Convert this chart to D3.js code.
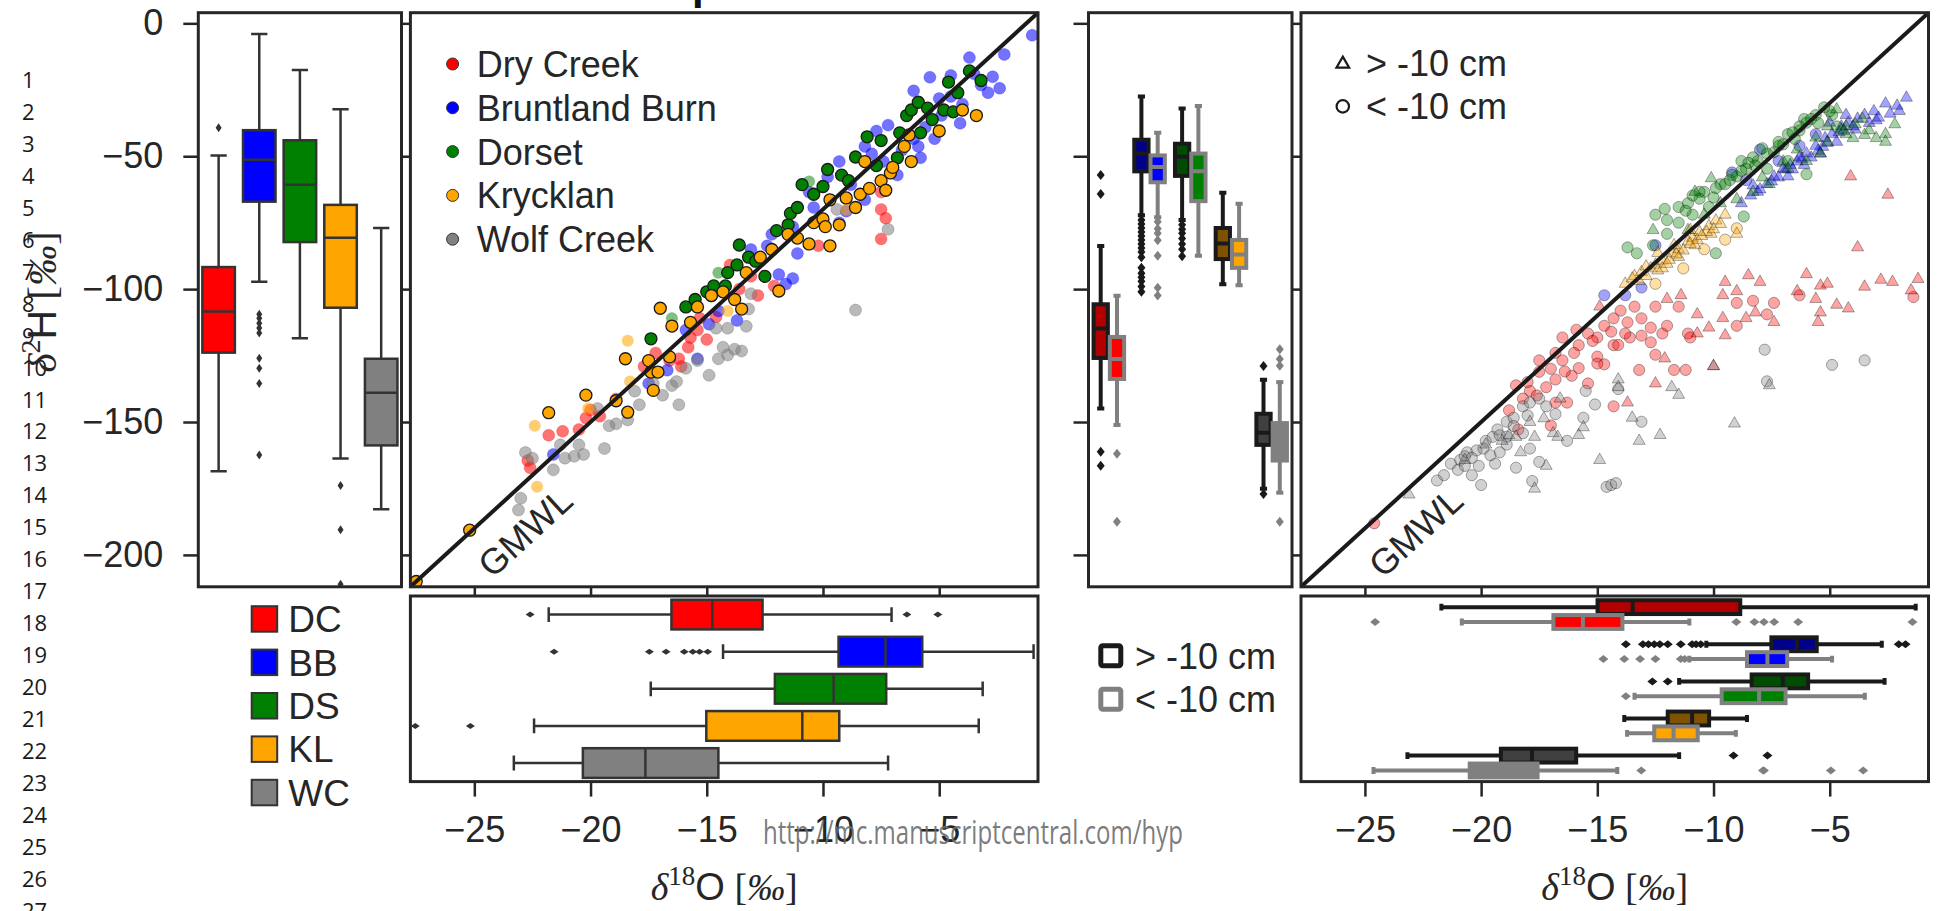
<!DOCTYPE html>
<html>
<head>
<meta charset="utf-8">
<script src="https://cdn.jsdelivr.net/npm/d3@7"></script>
<style>
  html, body { margin: 0; padding: 0; background: #fff; }
  svg { display: block; }
</style>
</head>
<body>
<svg id="chart" width="1937" height="911"></svg>
<script>
// ---------------- data ----------------
const siteCodes = ["DC", "BB", "DS", "KL", "WC"];
const siteNames = ["Dry Creek", "Bruntland Burn", "Dorset", "Krycklan", "Wolf Creek"];
const siteColors = ["#ff0000", "#0000ff", "#008000", "#ffa500", "#808080"];
const siteDarkColors = ["#b20000", "#00008b", "#004c00", "#7f5200", "#404040"];
const depthClasses = ["> -10 cm", "< -10 cm"];
const xTicks = [-25, -20, -15, -10, -5];
const yTicks = [0, -50, -100, -150, -200];
const xDomain = [-27.75, -0.75];
const yDomain = [-212, 4];
const lineNumbers = [1,2,3,4,5,6,7,8,9,10,11,12,13,14,15,16,17,18,19,20,21,22,23,24,25,26,27];

// δ2H box statistics per site: [lower whisker, Q1, median, Q3, upper whisker]
const d2hStats = [
  [-168.5, -123.9, -108.4, -91.7, -49.7],
  [-97.2, -67.1, -51.3, -40.2, -4.0],
  [-118.5, -82.3, -60.7, -44.0, -17.6],
  [-163.7, -107.0, -80.7, -68.3, -32.3],
  [-182.8, -158.8, -139.0, -126.2, -77.0]
];
const d2hOutliers = [
  [-39.3],
  [-109.5, -111, -112.8, -114.6, -116.5, -126, -129.8, -135.5, -162.4],
  [],
  [-173.9, -190.5, -211],
  []
];

// δ18O box statistics per site
const d18oStats = [
  [-21.8, -16.52, -14.76, -12.6, -7.05],
  [-14.3, -9.33, -7.31, -5.73, -0.94],
  [-17.41, -12.07, -9.54, -7.28, -3.13],
  [-22.43, -15.02, -10.89, -9.3, -3.3],
  [-23.3, -20.33, -17.64, -14.5, -7.2]
];
const d18oOutliers = [
  [-22.6, -6.39, -5.06],
  [-21.57, -17.47, -16.75, -15.97, -15.6, -15.31, -14.96],
  [],
  [-27.54, -25.17],
  []
];

// δ2H by sampling depth
const d2hShallowStats = [
  [-144.9, -125.9, -114.8, -105.7, -83.8],
  [-72.2, -55.7, -49.0, -43.8, -27.5],
  [-74.0, -57.4, -50.2, -45.3, -32.0],
  [-98.2, -88.7, -82.8, -77.0, -63.7],
  [-175.1, -158.6, -154.0, -146.9, -134.1]
];
const d2hShallowOutliers = [
  [-57.1, -64.2, -161.2, -166.5],
  [-74, -75.5, -77, -78.5, -80, -81.5, -83, -84.5, -86, -88, -92, -94, -95.5, -97, -99, -101],
  [-75.8, -77.5, -79, -81, -83, -85, -87.6],
  [],
  [-128.9, -177.1]
];
const d2hDeepStats = [
  [-151.1, -133.8, -126.3, -118.0, -102.5],
  [-73.0, -59.8, -54.1, -49.7, -41.2],
  [-87.4, -66.9, -55.7, -49.0, -31.1],
  [-98.5, -92.0, -87.0, -81.5, -67.9],
  [-176.6, -164.5, -159.2, -150.4, -135.0]
];
const d2hDeepOutliers = [
  [-161.9, -187.5],
  [-74.7, -77.3, -79, -81.6, -87.4, -99.5, -102.4],
  [],
  [],
  [-122.6, -126.3, -128.8, -187.5]
];

// δ18O by sampling depth
const d18oShallowStats = [
  [-21.71, -14.99, -13.48, -8.85, -1.3],
  [-10.31, -7.51, -6.41, -5.56, -2.76],
  [-11.48, -8.36, -7.02, -5.93, -2.64],
  [-13.84, -11.97, -10.92, -10.19, -8.56],
  [-23.17, -19.15, -17.81, -15.91, -11.48]
];
const d18oShallowOutliers = [
  [],
  [-13.77, -13.04, -12.8, -12.55, -12.31, -11.97, -11.41, -10.92, -10.75, -10.55, -2.03, -1.74],
  [-12.63, -11.97],
  [],
  [-9.14, -7.68]
];
const d18oDeepStats = [
  [-20.83, -16.89, -15.62, -13.92, -11.04],
  [-11.04, -8.56, -7.68, -6.83, -4.9],
  [-13.4, -9.65, -8.04, -6.9, -3.49],
  [-13.72, -12.55, -11.72, -10.68, -9.04],
  [-24.63, -20.49, -19.45, -17.57, -14.14]
];
const d18oDeepOutliers = [
  [-24.56, -9.02, -8.24, -7.83, -7.39, -6.36, -1.44],
  [-14.74, -13.84, -13.16, -12.5, -11.41, -11.24],
  [-13.77],
  [],
  [-13.11, -7.87, -7.83, -4.95, -3.56]
];

// dual-isotope samples [δ18O, δ2H], all sites
const ptsDC = [[-22.6,-167.2],[-22.7,-164.5],[-21.8,-155],[-21.2,-153.5],[-20.5,-152.8],[-20.2,-148.5],[-20.0,-145.5],[-19.6,-147.8],[-18.9,-141.3],[-17.7,-129.1],[-17.2,-124],[-16.6,-126.9],[-16.2,-126.2],[-16.1,-129.1],[-15.8,-121.9],[-15.7,-118.3],[-15.4,-115.4],[-15.3,-111],[-15.0,-119],[-14.6,-110.5],[-14.0,-90.9],[-13.6,-100],[-13.1,-95.2],[-12.8,-102.4],[-12.1,-98.8],[-10.2,-83.7],[-7.5,-70],[-7.3,-73.3],[-7.5,-81.1],[-7.5,-63.5]];
const ptsBB = [[-1.0,-4.5],[-2.2,-11.7],[-3.7,-12.9],[-2.4,-24.4],[-2.9,-26.1],[-2.7,-20.1],[-3.2,-23.2],[-3.5,-19],[-4.5,-19.6],[-5.4,-20.3],[-6.1,-25.4],[-5.0,-28.3],[-4.9,-34.7],[-4.1,-37.6],[-5.6,-39.1],[-6.1,-43.4],[-5.2,-43.4],[-7.2,-38.3],[-7.7,-40.5],[-5.8,-50.6],[-6.8,-57.1],[-8.2,-46.3],[-7.9,-49.1],[-7.4,-52],[-9.3,-52],[-9.8,-57.8],[-10.6,-63.5],[-9.0,-70.7],[-9.3,-75],[-8.2,-66.4],[-10.4,-69.3],[-11.3,-76.5],[-12.2,-79.4],[-11.1,-86.6],[-12.4,-83.7],[-13.1,-85.1],[-11.3,-96],[-11.9,-94.5],[-11.6,-98.1],[-13.7,-111.8],[-14.5,-108.2],[-14.9,-113.2],[-15.4,-126.2],[-15.9,-115.4],[-16.7,-130.5],[-17.5,-135.5],[-21.6,-162.2],[-8.8,-60.7],[-5.9,-46.3],[-6.6,-47.7],[-4.5,-27.5],[-4.0,-30.4]];
const ptsWC = [[-23.1,-183.1],[-23.0,-178.7],[-22.8,-161.5],[-22.5,-163.6],[-21.6,-168],[-21.3,-158.6],[-21.1,-163.6],[-20.7,-162.9],[-20.5,-158.6],[-20.3,-162.2],[-19.4,-160],[-19.7,-144.9],[-19.2,-151.4],[-18.9,-150.7],[-18.4,-149.2],[-18.1,-138.4],[-17.9,-143.5],[-17.3,-135.5],[-16.9,-139.9],[-16.5,-136.3],[-16.3,-134.8],[-16.2,-143.5],[-15.9,-129.8],[-15.4,-126.9],[-14.9,-132.4],[-14.5,-126.2],[-14.3,-121.9],[-14.1,-124.8],[-13.8,-122.6],[-13.5,-123.3],[-14.6,-114.7],[-14.1,-114.7],[-13.3,-114],[-13.2,-107.5],[-13.1,-101.7],[-8.6,-107.9],[-7.2,-77.5],[-9.4,-70.0]];
const ptsDS = [[-17.4,-118.7],[-15.9,-106.7],[-15.5,-103.9],[-15.0,-101],[-14.8,-102.4],[-14.7,-98.8],[-14.2,-98.8],[-14.1,-93.8],[-13.7,-90.9],[-13.6,-83.4],[-13.2,-88],[-12.9,-89.5],[-12.5,-95.2],[-12.0,-78],[-11.5,-75.8],[-11.4,-71.5],[-11.1,-69.3],[-10.9,-60.7],[-10.4,-64.3],[-10.0,-61.4],[-9.8,-55],[-9.2,-57.1],[-8.9,-59.2],[-8.6,-50.3],[-8.1,-42.7],[-7.7,-53.5],[-7.5,-44.1],[-6.8,-50.6],[-6.7,-41.2],[-6.4,-34.7],[-6.2,-32.6],[-5.9,-29.7],[-5.8,-41.2],[-5.5,-31.9],[-5.3,-36.2],[-4.8,-32.6],[-4.6,-22.1],[-4.4,-33.3],[-4.2,-26.1],[-3.7,-17.9],[-3.2,-21.5]];
const ptsDSfaint = [[-10.6,-59.5],[-16.5,-111],[-14.5,-93.8]];
const ptsKL = [[-25.2,-190.7],[-27.5,-210],[-21.8,-146.5],[-20.2,-139.9],[-18.9,-142],[-18.4,-146.3],[-18.5,-126.2],[-17.5,-126.9],[-17.4,-131.2],[-17.1,-131.2],[-17.3,-138.1],[-17.0,-107.2],[-16.6,-125.5],[-16.5,-113.9],[-15.7,-112.5],[-15.4,-106.7],[-14.8,-102.4],[-14.3,-101],[-13.8,-103.9],[-13.5,-107.5],[-13.3,-93.8],[-12.7,-88],[-12.2,-85.1],[-11.9,-100.7],[-11.5,-79.4],[-11.1,-80.8],[-10.6,-83],[-10.4,-75],[-10.0,-73.6],[-9.9,-76.5],[-9.7,-83.7],[-9.7,-66.4],[-9.3,-75.8],[-9.0,-65.7],[-8.6,-69.3],[-8.4,-64.3],[-8.2,-52],[-8.0,-62.1],[-7.5,-59.2],[-7.3,-62.8],[-7.1,-56.3],[-7.0,-54.2],[-6.5,-46.3],[-6.3,-42],[-6.2,-52],[-5.0,-40.5],[-4.0,-32.6],[-3.4,-34.7]];
const ptsKLfaint = [[-22.4,-151.4],[-22.3,-174.4],[-18.4,-119.4],[-18.3,-134.8],[-20.1,-144.9],[-14.1,-108.2],[-9.0,-70]];

// samples split by depth: shallow (> -10 cm, triangles) and deep (< -10 cm, circles)
const shallowDC = [[-4.1,-57.6],[-2.5,-64.5],[-3.8,-84.3],[-8.5,-94.8],[-8.0,-97.3],[-9.5,-97.3],[-9.0,-100.8],[-6.0,-94.4],[-5.4,-98.7],[-5.1,-98],[-3.5,-99.1],[-2.8,-96.5],[-2.3,-97.3],[-1.2,-96.2],[-1.5,-100.5],[-6.4,-100.8],[-5.6,-103.7],[-4.7,-105.9],[-4.2,-107.3],[-5.4,-108.8],[-5.5,-112.4],[-7.4,-112.4],[-8.2,-108.8],[-8.6,-110.9],[-9.6,-110.9],[-10.2,-114.5],[-10.7,-116.7],[-9.5,-117.4],[-12.0,-103.7],[-11.4,-102.3],[-12.1,-126.1],[-10.0,-129],[-10.7,-109.5],[-9.6,-102.3],[-13.7,-142.7],[-14.9,-106.6],[-12.5,-135.5]];
const deepDC = [[-18.5,-136.2],[-17.5,-126.8],[-16.8,-124],[-16.5,-118.2],[-15.8,-121.1],[-15.4,-116.7],[-14.7,-113.8],[-14.3,-111],[-14.0,-108.1],[-13.4,-106.6],[-13.1,-111],[-12.5,-106.6],[-12.2,-116.7],[-12.0,-113.8],[-11.5,-106.6],[-11.1,-116.7],[-11.7,-130.4],[-11.2,-130.4],[-12.5,-124.7],[-13.2,-130.4],[-13.6,-118.2],[-14.3,-121.1],[-15.0,-125.4],[-15.8,-129.7],[-16.1,-132.6],[-16.8,-134],[-17.2,-136.9],[-17.9,-138.3],[-18.2,-141.2],[-16.8,-142.7],[-16.3,-142.7],[-14.3,-144.1],[-17.0,-151.3],[-18.8,-145.6],[-18.4,-152.8],[-24.6,-188.1],[-9.0,-105.2],[-8.3,-104.4],[-7.4,-105.2],[-7.7,-109.5],[-9.0,-113.8],[-6.3,-102.3],[-1.4,-103],[-11.0,-118.2],[-15.9,-115.3],[-15.0,-118.2],[-13.8,-116.7],[-12.7,-114.5],[-14.7,-128.3],[-15.4,-135.5],[-17.5,-131.1],[-16.5,-126.8],[-16.0,-124],[-15.2,-119.5],[-14.4,-116],[-13.7,-112.5],[-17.0,-130],[-16.4,-131],[-15.0,-128],[-14.1,-121],[-13.1,-117.5],[-12.7,-120],[-18.0,-135],[-17.6,-140]];
const shallowBB = [[-1.7,-28],[-2.0,-33],[-2.6,-30.2],[-3.1,-33.1],[-3.5,-34.5],[-3.8,-35.9],[-4.2,-37.4],[-4.5,-38.8],[-4.9,-41.7],[-5.2,-43.2],[-5.6,-46.1],[-6.0,-49],[-6.3,-50.4],[-6.7,-53.3],[-7.0,-54.7],[-7.4,-57.6],[-7.7,-60.5],[-8.1,-63.4],[-8.4,-64.8],[-8.8,-67.7],[-4.0,-38.8],[-4.7,-44.6],[-5.4,-49],[-6.1,-53.3],[-6.8,-57.6],[-4.3,-34.5],[-5.0,-37.4],[-3.0,-36.5],[-4.6,-41],[-5.3,-46.5],[-6.4,-52],[-7.2,-58],[-8.0,-62.5],[-2.4,-34],[-3.9,-40],[-5.8,-50.5],[-6.9,-55],[-2.1,-31],[-2.9,-35.5],[-3.3,-37.5],[-4.4,-40.5],[-5.1,-45],[-5.5,-48],[-6.2,-51],[-6.6,-55],[-7.5,-59.5],[-8.3,-61]];
const deepBB = [[-8.0,-47.5],[-14.7,-102.3],[-12.5,-83.5],[-13.8,-102.3],[-13.1,-99.4],[-9.2,-56.1],[-8.6,-59],[-7.2,-51.8],[-6.3,-46.1],[-5.6,-41.7]];
const shallowDS = [[-10.1,-58.3],[-10.8,-63.4],[-12.6,-77.8],[-4.7,-32.4],[-4.3,-38.8],[-3.6,-35.9],[-2.6,-41.7],[-3.0,-43.2],[-2.6,-44.6],[-4.0,-43.2],[-5.1,-44.6],[-5.4,-49],[-6.0,-51.8],[-6.8,-54.7],[-7.6,-60.5],[-8.3,-63.4],[-9.0,-66.2],[-9.7,-67.7],[-10.4,-72],[-11.1,-77.8],[-3.3,-40.3],[-4.3,-41.7],[-5.1,-38.8],[-3.9,-38],[-4.5,-40],[-5.6,-43],[-6.4,-47.5],[-7.0,-52],[-7.9,-58],[-2.2,-38],[-3.5,-42]];
const deepDS = [[-5.24,-31.6],[-6.1,-36],[-6.3,-40.3],[-6.8,-41.7],[-7.2,-46.1],[-7.7,-49],[-8.1,-51.8],[-8.8,-51.8],[-9.0,-57.6],[-9.7,-60.5],[-10.4,-63.4],[-10.9,-64.8],[-11.5,-69.1],[-10.9,-72],[-10.2,-69.1],[-12.5,-72],[-12.1,-69.8],[-11.5,-75],[-12.0,-79.2],[-12.6,-83.5],[-13.7,-84.3],[-13.3,-86.5],[-9.9,-86.5],[-8.7,-72.7],[-6.0,-56.8],[-6.0,-37.4],[-5.6,-34.5],[-4.9,-34.5],[-4.7,-38.8],[-8.6,-54.7],[-7.7,-54.7],[-6.8,-51.8],[-11.1,-67.7],[-10.6,-63.4],[-9.3,-59],[-8.3,-50.4],[-7.2,-44.6],[-6.3,-38.8],[-7.9,-47],[-8.5,-52.5],[-9.2,-57],[-9.9,-62],[-10.6,-66],[-6.6,-41],[-5.8,-36],[-7.0,-45.5],[-8.8,-55.5],[-10.0,-65.5],[-11.2,-70.5],[-12.0,-74],[-5.0,-33],[-5.5,-37.5],[-6.5,-43.5],[-7.4,-48.5],[-8.2,-53.5],[-9.5,-60.5]];
const shallowKL = [[-13.8,-98],[-13.4,-95.1],[-13.1,-93.6],[-12.7,-92.2],[-12.5,-90.8],[-12.2,-89.3],[-11.8,-86.4],[-11.5,-85],[-11.1,-82.1],[-10.9,-80.7],[-10.6,-78.5],[-10.2,-76.3],[-9.9,-74.2],[-9.5,-72],[-12.9,-95.1],[-12.2,-92.2],[-11.5,-87.9],[-10.8,-83.5],[-10.1,-79.2],[-9.0,-79.2],[-12.4,-86.4],[-11.7,-83.5],[-11.0,-77.8],[-13.2,-97],[-12.4,-93],[-11.9,-89],[-11.3,-85.5],[-10.7,-81.5],[-10.3,-78.5],[-9.7,-75.5],[-12.9,-91.5],[-11.6,-87],[-10.5,-80],[-13.5,-96],[-12.0,-90.5],[-11.0,-83],[-10.0,-77.5]];
const deepKL = [[-9.0,-77.1],[-9.5,-81.4],[-12.5,-98],[-11.3,-92.2],[-10.4,-85]];
const shallowWC = [[-23.1,-177.3],[-20.7,-164.3],[-19.8,-158.5],[-19.1,-157.1],[-18.8,-154.9],[-18.5,-155.6],[-18.3,-161.4],[-17.7,-155.6],[-17.2,-166.5],[-17.7,-175.1],[-16.9,-154.2],[-16.7,-155.6],[-15.8,-154.9],[-15.6,-152],[-14.9,-164.3],[-14.1,-134],[-14.1,-136.9],[-13.5,-148.4],[-13.2,-157.1],[-12.3,-154.9],[-11.8,-136.9],[-11.5,-139.8],[-10.0,-129],[-9.1,-150.6],[-7.6,-136.2],[-17.3,-148.6],[-17.9,-150],[-16.6,-141.2]];
const deepWC = [[-21.6,-170],[-21.3,-165.7],[-20.9,-164.3],[-20.6,-161.4],[-20.2,-160.7],[-19.8,-157.1],[-19.5,-155.6],[-19.3,-152.8],[-18.9,-149.9],[-18.6,-148.4],[-18.2,-144.1],[-17.9,-142.7],[-17.5,-141.2],[-17.2,-144.1],[-18.2,-154.2],[-18.9,-158.5],[-19.4,-165.7],[-20.1,-166.5],[-20.7,-162.9],[-18.5,-167.2],[-17.5,-165],[-17.8,-172.2],[-20.0,-173.7],[-15.5,-138.3],[-15.1,-143.4],[-15.6,-148.4],[-16.3,-157.1],[-14.1,-137.6],[-13.1,-149.9],[-14.6,-174.4],[-14.4,-173.7],[-14.2,-173],[-7.8,-122.8],[-7.7,-134.7],[-4.9,-128.5],[-3.5,-126.8],[-16.8,-147],[-17.9,-160],[-19.2,-161.4],[-20.4,-170],[-21.0,-168],[-20.4,-163.5],[-19.9,-160],[-19.2,-155],[-18.6,-151.5],[-18.0,-147.5],[-21.9,-172],[-20.7,-166.5],[-19.6,-162.5],[-18.9,-155.5]];

// ---------------- layout ----------------
const SANS = "'Liberation Sans', Arial, Helvetica, sans-serif";
const SERIF = "'Liberation Serif', 'DejaVu Serif', serif";
const INK = "#262626";
const panelTop = 12.7, panelBot = 586.8;
const boxTop = 596, boxBot = 781.6;
const leftBoxX = [198.3, 401.5];
const mainX = [410.4, 1038];
const depthBoxX = [1088.5, 1292];
const depthX = [1301, 1928.5];

const svg = d3.select("#chart");
const defs = svg.append("defs");

const y = d3.scaleLinear().domain(yDomain).range([panelBot, panelTop]);
const xMain = d3.scaleLinear().domain(xDomain).range(mainX);
const xDepth = d3.scaleLinear().domain(xDomain).range(depthX);
const bandLeft = d3.scaleBand().domain(siteCodes).range(leftBoxX);
const bandDepthV = d3.scaleBand().domain(siteCodes).range(depthBoxX);
const bandH = d3.scaleBand().domain(siteCodes).range([boxTop, boxBot]);

function clip(id, x0, y0, x1, y1) {
  defs.append("clipPath").attr("id", id).append("rect")
    .attr("x", x0).attr("y", y0).attr("width", x1 - x0).attr("height", y1 - y0);
}
clip("clipMain", mainX[0], panelTop, mainX[1], panelBot);
clip("clipDepth", depthX[0], panelTop, depthX[1], panelBot);
clip("clipLeftBox", leftBoxX[0], panelTop, leftBoxX[1], panelBot);
clip("clipDepthBox", depthBoxX[0], panelTop, depthBoxX[1], panelBot);
clip("clipMainH", mainX[0], boxTop, mainX[1], boxBot);
clip("clipDepthH", depthX[0], boxTop, depthX[1], boxBot);

function frame(x0, y0, x1, y1) {
  svg.append("rect").attr("x", x0).attr("y", y0).attr("width", x1 - x0).attr("height", y1 - y0)
    .attr("fill", "none").attr("stroke", INK).attr("stroke-width", 3);
}

function styleAxis(g, showLabels) {
  g.select(".domain").remove();
  g.selectAll(".tick line").attr("stroke", INK).attr("stroke-width", 2.5);
  g.selectAll(".tick text").attr("fill", INK).attr("font-family", SANS).attr("font-size", 36);
  if (!showLabels) g.selectAll(".tick text").remove();
}

function diamond(cx, cy, hw, hh) {
  return `M${cx},${cy - hh}L${cx + hw},${cy}L${cx},${cy + hh}L${cx - hw},${cy}Z`;
}

// vertical box (value on the y scale)
function vBox(g, cx, bw, s, outs, o) {
  const [lo, q1, med, q3, hi] = s;
  const ln = (x1, y1, x2, y2) => g.append("line").attr("x1", x1).attr("y1", y1).attr("x2", x2).attr("y2", y2)
    .attr("stroke", o.stroke).attr("stroke-width", o.sw);
  ln(cx, y(q3), cx, y(hi));
  ln(cx, y(q1), cx, y(lo));
  ln(cx - bw / 4, y(hi), cx + bw / 4, y(hi));
  ln(cx - bw / 4, y(lo), cx + bw / 4, y(lo));
  g.append("rect").attr("x", cx - bw / 2).attr("y", y(q3)).attr("width", bw).attr("height", y(q1) - y(q3))
    .attr("fill", o.fill).attr("stroke", o.stroke).attr("stroke-width", o.sw);
  ln(cx - bw / 2, y(med), cx + bw / 2, y(med));
  g.selectAll(null).data(outs).join("path")
    .attr("d", v => diamond(cx, y(v), o.dw, o.dh)).attr("fill", o.outFill);
}

// horizontal box (value on an x scale)
function hBox(g, xs, cy, bh, s, outs, o) {
  const [lo, q1, med, q3, hi] = s;
  const ln = (x1, y1, x2, y2) => g.append("line").attr("x1", x1).attr("y1", y1).attr("x2", x2).attr("y2", y2)
    .attr("stroke", o.stroke).attr("stroke-width", o.sw);
  ln(xs(lo), cy, xs(q1), cy);
  ln(xs(q3), cy, xs(hi), cy);
  ln(xs(lo), cy - bh / 4, xs(lo), cy + bh / 4);
  ln(xs(hi), cy - bh / 4, xs(hi), cy + bh / 4);
  g.append("rect").attr("x", xs(q1)).attr("y", cy - bh / 2).attr("width", xs(q3) - xs(q1)).attr("height", bh)
    .attr("fill", o.fill).attr("stroke", o.stroke).attr("stroke-width", o.sw);
  ln(xs(med), cy - bh / 2, xs(med), cy + bh / 2);
  g.selectAll(null).data(outs).join("path")
    .attr("d", v => diamond(xs(v), cy, o.dh, o.dw)).attr("fill", o.outFill);
}

// ---------------- manuscript line numbers ----------------
svg.append("g").selectAll("text").data(lineNumbers).join("text")
  .attr("x", 22).attr("y", (d, i) => 80 + i * 31.95 + 8)
  .attr("font-family", "'Open Sans', 'Noto Sans', sans-serif").attr("font-size", 22)
  .attr("fill", "#1a1a1a").text(d => d);

// bit of the heading above the figure
svg.append("text").attr("x", 692).attr("y", -1).attr("font-family", SANS).attr("font-weight", "bold")
  .attr("font-size", 42).attr("fill", "#111").text("p");

// ---------------- panel 1: δ2H boxes per site ----------------
{
  const g = svg.append("g").attr("clip-path", "url(#clipLeftBox)");
  const bw = bandLeft.bandwidth() * 0.8;
  siteCodes.forEach((c, i) => {
    vBox(g, bandLeft(c) + bandLeft.bandwidth() / 2, bw, d2hStats[i], d2hOutliers[i],
      { fill: siteColors[i], stroke: "#333", sw: 2.5, outFill: "#333", dw: 3, dh: 4.5 });
  });
  const ax = svg.append("g").attr("transform", `translate(${leftBoxX[0]},0)`)
    .call(d3.axisLeft(y).tickValues(yTicks).tickSize(15).tickPadding(20).tickFormat(d3.format("d")));
  styleAxis(ax, true);
  frame(leftBoxX[0], panelTop, leftBoxX[1], panelBot);
}

// y-axis title
{
  const t = svg.append("text").attr("transform", "translate(56,302) rotate(-90)")
    .attr("text-anchor", "middle").attr("font-size", 41).attr("fill", INK);
  t.append("tspan").attr("font-family", SERIF).attr("font-style", "italic").text("δ");
  t.append("tspan").attr("font-family", SERIF).attr("font-size", 28).attr("dy", -16).text("2");
  t.append("tspan").attr("font-family", SANS).attr("dy", 16).text("H");
  t.append("tspan").attr("font-family", SERIF).text(" [");
  t.append("tspan").attr("font-family", SERIF).attr("font-style", "italic").text("‰");
  t.append("tspan").attr("font-family", SERIF).text("]");
}

// ---------------- scatter panels ----------------
function gmwl(g, xs) {
  g.append("line")
    .attr("x1", xs(xDomain[0])).attr("y1", y(8 * xDomain[0] + 10))
    .attr("x2", xs(xDomain[1])).attr("y2", y(8 * xDomain[1] + 10))
    .attr("stroke", "#1a1a1a").attr("stroke-width", 4);
  const angle = Math.atan2(y(8 * xDomain[1] + 10) - y(8 * xDomain[0] + 10), xs(xDomain[1]) - xs(xDomain[0])) * 180 / Math.PI;
  const cx = xs(xDomain[0]) + 114.5, cy = 532;
  g.append("text").attr("transform", `translate(${cx},${cy}) rotate(${angle})`)
    .attr("text-anchor", "middle").attr("dy", "0.36em")
    .attr("font-family", SANS).attr("font-size", 36).attr("fill", INK).text("GMWL");
}

// panel 2: all samples
{
  const g = svg.append("g").attr("clip-path", "url(#clipMain)");
  const dots = (data, fill, o) => g.append("g").selectAll("circle").data(data).join("circle")
    .attr("cx", d => xMain(d[0])).attr("cy", d => y(d[1])).attr("r", 6)
    .attr("fill", fill).attr("fill-opacity", o.op)
    .attr("stroke", o.stroke || "none").attr("stroke-width", o.sw || 0).attr("stroke-opacity", o.sop || 1);
  dots(ptsDC, siteColors[0], { op: 0.55, stroke: "#ff0000", sw: 0.8, sop: 0.3 });
  dots(ptsBB, siteColors[1], { op: 0.55, stroke: "#0000ff", sw: 0.8, sop: 0.3 });
  dots(ptsWC, siteColors[4], { op: 0.55, stroke: "#555", sw: 0.8, sop: 0.35 });
  dots(ptsDSfaint, siteColors[2], { op: 0.5 });
  dots(ptsKLfaint, siteColors[3], { op: 0.55 });
  dots(ptsDS, siteColors[2], { op: 1, stroke: "#1a1a1a", sw: 1.3 });
  dots(ptsKL, siteColors[3], { op: 1, stroke: "#1a1a1a", sw: 1.3 });
  gmwl(svg.append("g"), xMain);

  const lg = svg.append("g");
  siteNames.forEach((n, i) => {
    const cy = 64 + i * 43.8;
    lg.append("circle").attr("cx", 452.6).attr("cy", cy).attr("r", 6)
      .attr("fill", siteColors[i]).attr("stroke", "#333").attr("stroke-width", 1);
    lg.append("text").attr("x", 476.7).attr("y", cy).attr("dy", "0.36em")
      .attr("font-family", SANS).attr("font-size", 36).attr("fill", INK).text(n);
  });

  const ay = svg.append("g").attr("transform", `translate(${mainX[0]},0)`)
    .call(d3.axisLeft(y).tickValues(yTicks).tickSize(9));
  styleAxis(ay, false);
  const axb = svg.append("g").attr("transform", `translate(0,${panelBot})`)
    .call(d3.axisBottom(xMain).tickValues(xTicks).tickSize(10));
  styleAxis(axb, false);
  frame(mainX[0], panelTop, mainX[1], panelBot);
}

// panel 3: δ2H boxes by depth
{
  const g = svg.append("g").attr("clip-path", "url(#clipDepthBox)");
  const bw = bandDepthV.bandwidth() * 0.4;
  siteCodes.forEach((c, i) => {
    const mid = bandDepthV(c) + bandDepthV.bandwidth() / 2;
    vBox(g, mid - bandDepthV.bandwidth() * 0.2, bw - 2, d2hShallowStats[i], d2hShallowOutliers[i],
      { fill: siteDarkColors[i], stroke: "#1a1a1a", sw: 4, outFill: "#1a1a1a", dw: 4, dh: 5 });
    vBox(g, mid + bandDepthV.bandwidth() * 0.2, bw - 2, d2hDeepStats[i], d2hDeepOutliers[i],
      { fill: siteColors[i], stroke: "#808080", sw: 4, outFill: "#808080", dw: 4, dh: 5 });
  });
  const ax = svg.append("g").attr("transform", `translate(${depthBoxX[0]},0)`)
    .call(d3.axisLeft(y).tickValues(yTicks).tickSize(15));
  styleAxis(ax, false);
  frame(depthBoxX[0], panelTop, depthBoxX[1], panelBot);
}

// panel 4: samples by depth
{
  const g = svg.append("g").attr("clip-path", "url(#clipDepth)");
  const tri = d3.symbol(d3.symbolTriangle, 62);
  const sets = [
    [deepDC, shallowDC, 0], [deepBB, shallowBB, 1], [deepDS, shallowDS, 2],
    [deepKL, shallowKL, 3], [deepWC, shallowWC, 4]
  ];
  sets.forEach(([deep, shallow, i]) => {
    g.append("g").selectAll("circle").data(deep).join("circle")
      .attr("cx", d => xDepth(d[0])).attr("cy", d => y(d[1])).attr("r", 5.6)
      .attr("fill", siteColors[i]).attr("fill-opacity", 0.36)
      .attr("stroke", "#000").attr("stroke-opacity", 0.33).attr("stroke-width", 1);
    g.append("g").selectAll("path").data(shallow).join("path")
      .attr("transform", d => `translate(${xDepth(d[0])},${y(d[1])})`).attr("d", tri)
      .attr("fill", siteColors[i]).attr("fill-opacity", 0.36)
      .attr("stroke", "#000").attr("stroke-opacity", 0.33).attr("stroke-width", 1);
  });
  gmwl(svg.append("g"), xDepth);

  const lg = svg.append("g");
  lg.append("path").attr("transform", "translate(1342.8,64)").attr("d", d3.symbol(d3.symbolTriangle, 70))
    .attr("fill", "none").attr("stroke", "#1a1a1a").attr("stroke-width", 2.2);
  lg.append("circle").attr("cx", 1342.8).attr("cy", 106.4).attr("r", 6.2)
    .attr("fill", "none").attr("stroke", "#1a1a1a").attr("stroke-width", 2.2);
  depthClasses.forEach((t, i) => {
    lg.append("text").attr("x", 1366).attr("y", 63.1 + i * 43.4).attr("dy", "0.36em")
      .attr("font-family", SANS).attr("font-size", 36).attr("fill", INK).text(t);
  });

  const ay = svg.append("g").attr("transform", `translate(${depthX[0]},0)`)
    .call(d3.axisLeft(y).tickValues(yTicks).tickSize(9));
  styleAxis(ay, false);
  const axb = svg.append("g").attr("transform", `translate(0,${panelBot})`)
    .call(d3.axisBottom(xDepth).tickValues(xTicks).tickSize(10));
  styleAxis(axb, false);
  frame(depthX[0], panelTop, depthX[1], panelBot);
}

// ---------------- bottom row: δ18O boxes ----------------
{
  const g = svg.append("g").attr("clip-path", "url(#clipMainH)");
  const bh = bandH.bandwidth() * 0.8;
  siteCodes.forEach((c, i) => {
    hBox(g, xMain, bandH(c) + bandH.bandwidth() / 2, bh, d18oStats[i], d18oOutliers[i],
      { fill: siteColors[i], stroke: "#333", sw: 2.5, outFill: "#333", dw: 3, dh: 4.5 });
  });
  const ax = svg.append("g").attr("transform", `translate(0,${boxBot})`)
    .call(d3.axisBottom(xMain).tickValues(xTicks).tickSize(15).tickPadding(20).tickFormat(d3.format("d")));
  styleAxis(ax, true);
  frame(mainX[0], boxTop, mainX[1], boxBot);
}
{
  const g = svg.append("g").attr("clip-path", "url(#clipDepthH)");
  const bh = bandH.bandwidth() * 0.4;
  siteCodes.forEach((c, i) => {
    const mid = bandH(c) + bandH.bandwidth() / 2;
    hBox(g, xDepth, mid - bandH.bandwidth() * 0.2, bh - 1, d18oShallowStats[i], d18oShallowOutliers[i],
      { fill: siteDarkColors[i], stroke: "#1a1a1a", sw: 4, outFill: "#1a1a1a", dw: 4, dh: 5 });
    hBox(g, xDepth, mid + bandH.bandwidth() * 0.2, bh - 1, d18oDeepStats[i], d18oDeepOutliers[i],
      { fill: siteColors[i], stroke: "#808080", sw: 4, outFill: "#808080", dw: 4, dh: 5 });
  });
  const ax = svg.append("g").attr("transform", `translate(0,${boxBot})`)
    .call(d3.axisBottom(xDepth).tickValues(xTicks).tickSize(15).tickPadding(20).tickFormat(d3.format("d")));
  styleAxis(ax, true);
  frame(depthX[0], boxTop, depthX[1], boxBot);
}

// x-axis titles
function xTitle(cx) {
  const t = svg.append("text").attr("x", cx).attr("y", 900)
    .attr("text-anchor", "middle").attr("font-size", 38).attr("fill", INK);
  t.append("tspan").attr("font-family", SERIF).attr("font-style", "italic").text("δ");
  t.append("tspan").attr("font-family", SERIF).attr("font-size", 27).attr("dy", -15).text("18");
  t.append("tspan").attr("font-family", SANS).attr("dy", 15).text("O");
  t.append("tspan").attr("font-family", SERIF).text(" [");
  t.append("tspan").attr("font-family", SERIF).attr("font-style", "italic").text("‰");
  t.append("tspan").attr("font-family", SERIF).text("]");
}
xTitle((mainX[0] + mainX[1]) / 2);
xTitle((depthX[0] + depthX[1]) / 2);

// ---------------- legends below the panels ----------------
{
  const lg = svg.append("g");
  siteCodes.forEach((c, i) => {
    const top = 606.2 + i * 43.4;
    lg.append("rect").attr("x", 251.7).attr("y", top).attr("width", 25.5).attr("height", 25.5)
      .attr("fill", siteColors[i]).attr("stroke", "#333").attr("stroke-width", 2);
    lg.append("text").attr("x", 288.3).attr("y", top + 12.7).attr("dy", "0.36em")
      .attr("font-family", SANS).attr("font-size", 37).attr("fill", INK).text(c);
  });
}
{
  const lg = svg.append("g");
  const strokes = ["#1a1a1a", "#808080"];
  depthClasses.forEach((t, i) => {
    const top = 645.8 + i * 43.4;
    lg.append("rect").attr("x", 1100.8).attr("y", top).attr("width", 20).attr("height", 20).attr("rx", 2)
      .attr("fill", "#fff").attr("stroke", strokes[i]).attr("stroke-width", 5);
    lg.append("text").attr("x", 1135).attr("y", top + 10).attr("dy", "0.36em")
      .attr("font-family", SANS).attr("font-size", 36).attr("fill", INK).text(t);
  });
}

// journal footer
svg.append("text").attr("x", 763).attr("y", 844)
  .attr("font-family", "'Open Sans', 'Noto Sans', sans-serif").attr("font-size", 33)
  .attr("textLength", 420).attr("lengthAdjust", "spacingAndGlyphs")
  .attr("fill", "#6b6b6b").attr("fill-opacity", 0.9)
  .text("http://mc.manuscriptcentral.com/hyp");
</script>
</body>
</html>
